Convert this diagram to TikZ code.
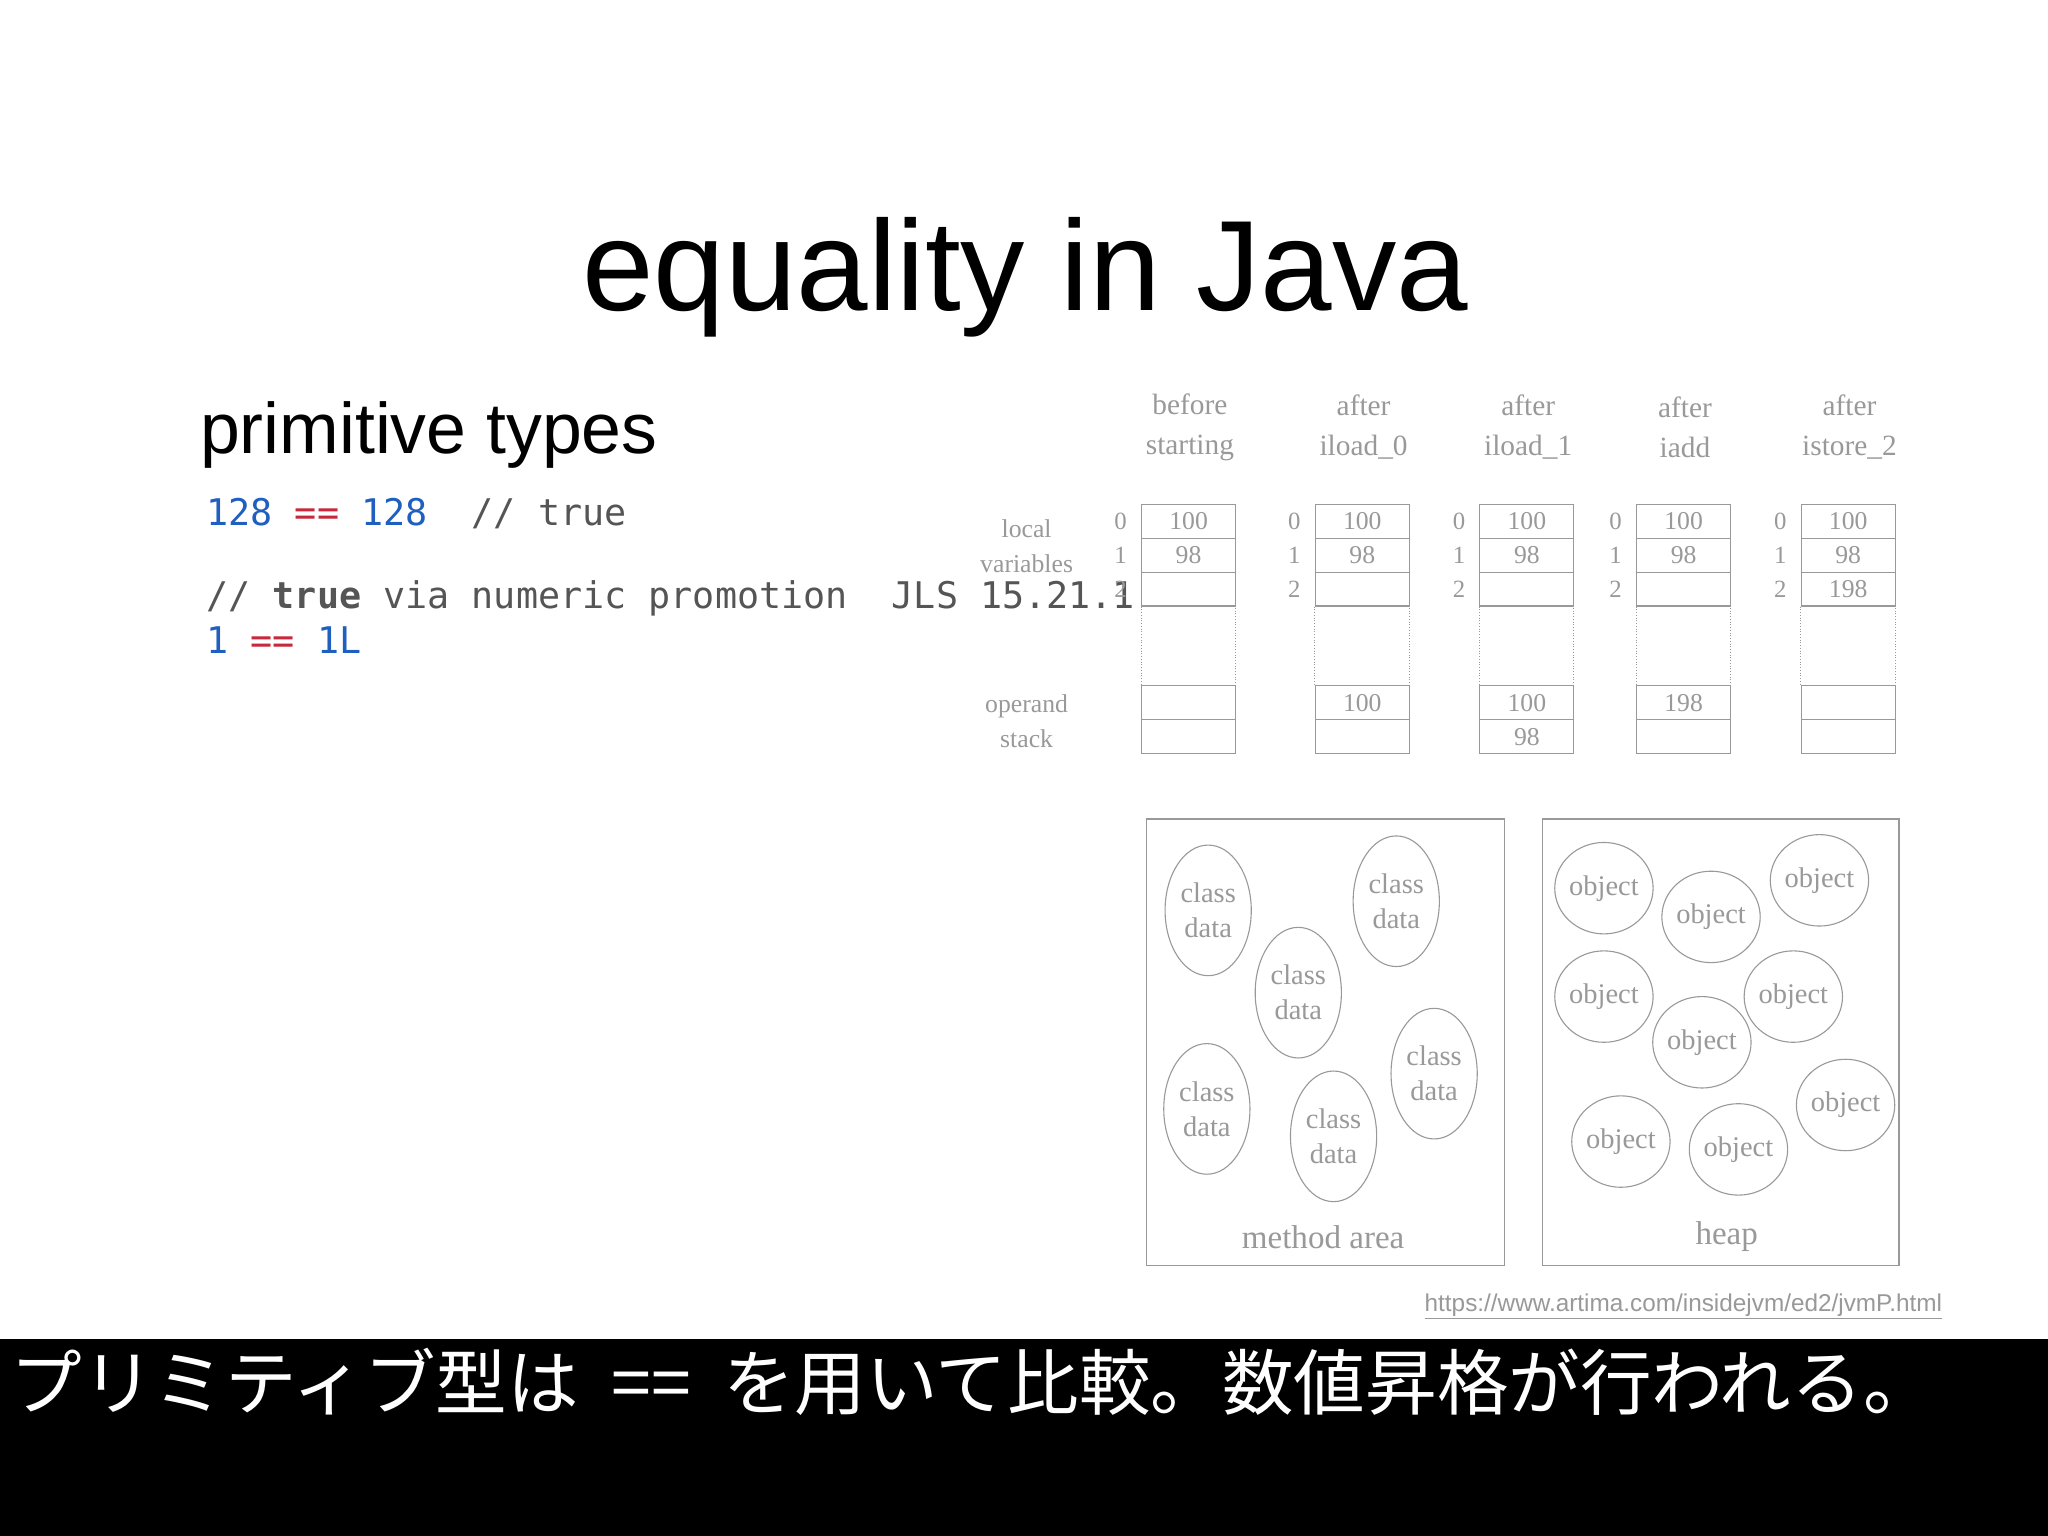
\documentclass[tikz,border=0pt]{standalone}
\usepackage{fontspec}
\setmainfont{Liberation Serif}
\newfontfamily\hv{Liberation Sans}
\newfontfamily\mono{DejaVu Sans Mono}
\newfontfamily\cjk{Noto Sans CJK JP}
\usetikzlibrary{shapes.geometric}
\definecolor{dg}{HTML}{999999}
\definecolor{kblue}{HTML}{1F5FBF}
\definecolor{kred}{HTML}{C8283C}
\definecolor{kgrey}{HTML}{555555}
\tikzset{
 cell/.style={draw=dg,line width=1.2pt,minimum width=72*0.05cm,minimum height=26*0.05cm,inner sep=0,font=\fontsize{28}{30}\selectfont,text=dg},
 idx/.style={font=\fontsize{27}{30}\selectfont,text=dg},
 hdr/.style={font=\fontsize{32}{44}\selectfont,text=dg,align=center},
 cls/.style={ellipse,draw=dg,line width=1.2pt,minimum width=66*0.05cm,minimum height=100*0.05cm,inner sep=0,font=\fontsize{31}{38}\selectfont,text=dg,align=center},
 obj/.style={ellipse,draw=dg,line width=1.2pt,minimum width=68*0.05cm,minimum height=70*0.05cm,inner sep=0,font=\fontsize{31}{38}\selectfont,text=dg},
 area/.style={draw=dg,line width=1.5pt},
 code/.style={anchor=west,inner sep=0,font=\mono\fontsize{40}{48}\selectfont}
}
\begin{document}
\begin{tikzpicture}[x=0.05cm,y=-0.05cm]
\useasboundingbox (0,0) rectangle (1568,1176);
\fill[white] (0,0) rectangle (1568,1176);
\node (title) at (785,212) {\hv\fontsize{140}{150}\selectfont equality in Java};
\node[anchor=west,inner sep=0] (prim) at (153,333) {\hv\fontsize{78}{90}\selectfont primitive types};
\node[code] (c1) at (158,393) {\textcolor{kblue}{128} \textcolor{kred}{==} \textcolor{kblue}{128}\ \ \textcolor{kgrey}{// true}};
\node[code] (c2) at (158,458) {\textcolor{kgrey}{// \textbf{true} via numeric promotion\ \ JLS 15.21.1}};
\node[code] (c3) at (158,490) {\textcolor{kblue}{1} \textcolor{kred}{==} \textcolor{kblue}{1L}};
% headers
\node[hdr] (h1) at (911,327) {before\\starting};
\node[hdr] (h2) at (1044,327) {after\\iload\_0};
\node[hdr] (h3) at (1170,327) {after\\iload\_1};
\node[hdr] (h4) at (1290,327) {after\\iadd};
\node[hdr] (h5) at (1416,327) {after\\istore\_2};
\node[hdr,font=\fontsize{28}{38}\selectfont] (lv) at (786,418) {local\\variables};
\node[hdr,font=\fontsize{28}{38}\selectfont] (os) at (786,552) {operand\\stack};
\foreach \n/\x/\a/\b/\c/\s/\t in {1/910/100/98//{}/{},2/1043/100/98//100/{},3/1169/100/98//100/98,4/1289/100/98//198/{},5/1415/100/98/198/{}/{}}{
 \node[cell] (v0\n) at (\x,399) {\a};
 \node[cell] (v1\n) at (\x,425) {\b};
 \node[cell] (v2\n) at (\x,451) {\c};
 \draw[dg,dotted,line width=1pt] (v2\n.south west) rectangle (\x+36,525);
 \node[cell] (s0\n) at (\x,538) {\s};
 \node[cell] (s1\n) at (\x,564) {\t};
 \node[idx] (i0\n) at (\x-52,399) {0};
 \node[idx] (i1\n) at (\x-52,425) {1};
 \node[idx] (i2\n) at (\x-52,451) {2};
}
% method area
\draw[area] (878,627) rectangle (1152,969);
\node[cls] (m1) at (925,697) {class\\data};
\node[cls] (m2) at (1069,690) {class\\data};
\node[cls] (m3) at (994,760) {class\\data};
\node[cls] (m4) at (1098,822) {class\\data};
\node[cls] (m5) at (924,849) {class\\data};
\node[cls] (m6) at (1021,870) {class\\data};
\node[text=dg,font=\fontsize{36}{40}\selectfont] (ma) at (1013,947) {method area};
% heap
\draw[area] (1181,627) rectangle (1454,969);
\foreach \i/\x/\y in {1/1228/680,2/1310/702,3/1393/674,4/1228/763,5/1373/763,6/1303/798,7/1413/846,8/1241/874,9/1331/880}
 \node[obj] (o\i) at (\x,\y) {object};
\node[text=dg,font=\fontsize{36}{40}\selectfont] (hp) at (1322,947) {heap};
\node[anchor=east,inner sep=0,text=dg,font=\hv\fontsize{26.5}{30}\selectfont] (url) at (1487,1000) {\underline{https://www.artima.com/insidejvm/ed2/jvmP.html}};
% caption band
\fill[black] (0,1025) rectangle (1568,1176);
\node[anchor=west,inner sep=0,text=white,font=\cjk\fontsize{78}{86}\selectfont] (cap) at (8,1058) {プリミティブ型は\hspace{0.45em}==\hspace{0.45em}を用いて比較。数値昇格が行われる。};
\end{tikzpicture}
\end{document}
